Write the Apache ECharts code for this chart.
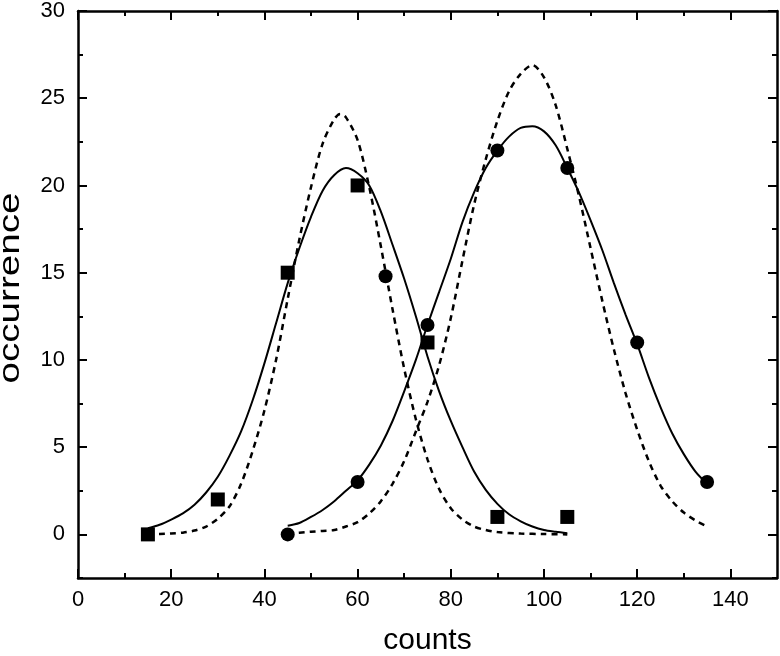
<!DOCTYPE html>
<html>
<head>
<meta charset="utf-8">
<script src="https://cdn.jsdelivr.net/npm/echarts@6/dist/echarts.min.js"></script>
<style>html,body{margin:0;padding:0;background:#fff}#c{width:780px;height:656px}</style>
</head>
<body>
<div id="c"></div>
<script>
// ---- data ----
const xMajorTicks = [0, 20, 40, 60, 80, 100, 120, 140];
const xMinorTicks = [10, 30, 50, 70, 90, 110, 130];
const yMajorTicks = [0, 5, 10, 15, 20, 25, 30];
const yMinorTicks = [-2.5, 2.5, 7.5, 12.5, 17.5, 22.5, 27.5];

const squareX = [15, 30, 45, 60, 75, 90, 105];
const squareY = [0, 2, 15, 20, 11, 1, 1];

const circleX = [45, 60, 66, 75, 90, 105, 120, 135];
const circleY = [0, 3, 14.8, 12, 22, 21, 11, 3];

const solid1X = [15, 17.5, 20, 22.5, 25, 27.5, 30, 32.5, 35, 37.5, 40, 42.5, 45, 47.5, 50, 52.5, 55, 57.5, 60, 62.5, 65, 67.5, 70, 72.5, 75, 77.5, 80, 82.5, 85, 87.5, 90, 92.5, 95, 97.5, 100, 102.5, 105];
const solid1Y = [0.35, 0.55, 0.85, 1.2, 1.7, 2.4, 3.3, 4.5, 5.9, 7.7, 9.8, 12.1, 14.4, 16.4, 18.2, 19.7, 20.6, 21.0, 20.7, 20.0, 18.5, 16.6, 14.65, 12.5, 10.2, 8.2, 6.5, 5.0, 3.6, 2.55, 1.75, 1.15, 0.75, 0.45, 0.25, 0.15, 0.07];

const dash1X = [15, 17.5, 20, 22.5, 25, 27.5, 30, 32.5, 35, 37.5, 40, 42.5, 45, 47.5, 50, 52.5, 55, 56.25, 57.5, 60, 62.5, 65, 67.5, 70, 72.5, 75, 77.5, 80, 82.5, 85, 87.5, 90, 95, 100, 105];
const dash1Y = [0, 0.02, 0.05, 0.1, 0.22, 0.45, 0.9, 1.6, 2.9, 4.8, 7.1, 10.0, 13.5, 16.9, 19.9, 22.4, 23.8, 24.1, 23.9, 22.6, 19.9, 16.5, 12.9, 9.5, 6.6, 4.3, 2.6, 1.5, 0.85, 0.45, 0.25, 0.13, 0.05, 0.02, 0];

const solid2X = [45, 47.5, 50, 52.5, 55, 57.5, 60, 62.5, 65, 67.5, 70, 72.5, 75, 77.5, 80, 82.5, 85, 87.5, 90, 92.5, 95, 97.5, 100, 102.5, 105, 107.5, 110, 112.5, 115, 117.5, 120, 122.5, 125, 127.5, 130, 132.5, 135];
const solid2Y = [0.5, 0.65, 1.0, 1.4, 1.9, 2.5, 3.1, 4.0, 5.1, 6.5, 8.2, 10.0, 12.0, 13.9, 15.8, 17.9, 19.6, 21.0, 22.0, 22.8, 23.3, 23.4, 23.1, 22.3, 21.0, 19.6, 18.0, 16.3, 14.4, 12.6, 10.9, 9.0, 7.3, 5.8, 4.6, 3.6, 2.9];

const dash2X = [45, 47.5, 50, 52.5, 55, 57.5, 60, 62.5, 65, 67.5, 70, 72.5, 75, 77.5, 80, 82.5, 85, 87.5, 90, 92.5, 95, 97.5, 100, 102.5, 105, 107.5, 110, 112.5, 115, 117.5, 120, 122.5, 125, 127.5, 130, 132.5, 135];
const dash2Y = [0.05, 0.1, 0.15, 0.2, 0.25, 0.45, 0.7, 1.2, 1.9, 2.9, 4.2, 5.9, 7.6, 9.7, 12.4, 15.7, 18.9, 21.5, 23.7, 25.4, 26.4, 26.9, 26.2, 24.6, 22.1, 19.4, 16.4, 13.4, 10.6, 8.1, 6.0, 4.2, 2.8, 1.9, 1.25, 0.8, 0.45];

// ---- helpers ----
const zip = (xs, ys) => xs.map((x, i) => [x, ys[i]]);
const FONT = 'Liberation Sans, Arial, sans-serif';
const X_MIN = 0, X_MAX = 150, Y_MIN = -2.5, Y_MAX = 30;

function xAx(pos, ticks, len, withLine, withLabels) {
  return {
    type: 'value', position: pos, min: X_MIN, max: X_MAX,
    axisLine: { show: withLine, onZero: false, lineStyle: { color: '#000', width: 2.5 } },
    axisTick: { show: true, inside: true, length: len, customValues: ticks, lineStyle: { color: '#000', width: 2 } },
    axisLabel: withLabels ? { show: true, customValues: xMajorTicks, color: '#000', fontSize: 22, fontFamily: FONT, margin: 11 } : { show: false },
    splitLine: { show: false },
    name: withLabels ? 'counts' : '',
    nameLocation: 'middle', nameGap: 48,
    nameTextStyle: { color: '#000', fontSize: 30, fontFamily: FONT }
  };
}
function yAx(pos, ticks, len, withLine, withLabels) {
  return {
    type: 'value', position: pos, min: Y_MIN, max: Y_MAX,
    axisLine: { show: withLine, onZero: false, lineStyle: { color: '#000', width: 2.5 } },
    axisTick: { show: true, inside: true, length: len, customValues: ticks, lineStyle: { color: '#000', width: 2 } },
    axisLabel: withLabels ? { show: true, customValues: yMajorTicks, color: '#000', fontSize: 22, fontFamily: FONT, margin: 13 } : { show: false },
    splitLine: { show: false }
  };
}

const chart = echarts.init(document.getElementById('c'), null, { renderer: 'canvas' });
chart.setOption({
  backgroundColor: '#fff',
  animation: false,
  grid: { left: 78, right: 3, top: 11, bottom: 78, containLabel: false, outerBoundsMode: 'none' },
  graphic: [{
    type: 'text', x: 11, y: 288, rotation: Math.PI / 2, scaleX: 1.33,
    style: { text: 'occurrence', font: '29px "Liberation Sans", Arial, sans-serif', fill: '#000', align: 'center', verticalAlign: 'middle' }
  }],
  xAxis: [
    xAx('bottom', xMajorTicks, 9, true, true),
    xAx('bottom', xMinorTicks, 5, false, false),
    xAx('top', xMajorTicks, 9, true, false),
    xAx('top', xMinorTicks, 5, false, false)
  ],
  yAxis: [
    yAx('left', yMajorTicks, 9, true, true),
    yAx('left', yMinorTicks, 5, false, false),
    yAx('right', yMajorTicks, 9, true, false),
    yAx('right', yMinorTicks, 5, false, false)
  ],
  series: [
    { type: 'line', data: zip(dash1X, dash1Y), smooth: 0.3, showSymbol: false, symbol: 'none',
      lineStyle: { color: '#000', width: 2.5, type: [6, 5] }, z: 2 },
    { type: 'line', data: zip(dash2X, dash2Y), smooth: 0.3, showSymbol: false, symbol: 'none',
      lineStyle: { color: '#000', width: 2.5, type: [6, 5] }, z: 2 },
    { type: 'line', data: zip(solid1X, solid1Y), smooth: 0.3, showSymbol: false, symbol: 'none',
      lineStyle: { color: '#000', width: 2 }, z: 3 },
    { type: 'line', data: zip(solid2X, solid2Y), smooth: 0.3, showSymbol: false, symbol: 'none',
      lineStyle: { color: '#000', width: 2 }, z: 3 },
    { type: 'scatter', data: zip(squareX, squareY), symbol: 'rect', symbolSize: 14,
      itemStyle: { color: '#000', opacity: 1 }, z: 5 },
    { type: 'scatter', data: zip(circleX, circleY), symbol: 'circle', symbolSize: 14,
      itemStyle: { color: '#000', opacity: 1 }, z: 5 }
  ]
});
</script>
</body>
</html>
